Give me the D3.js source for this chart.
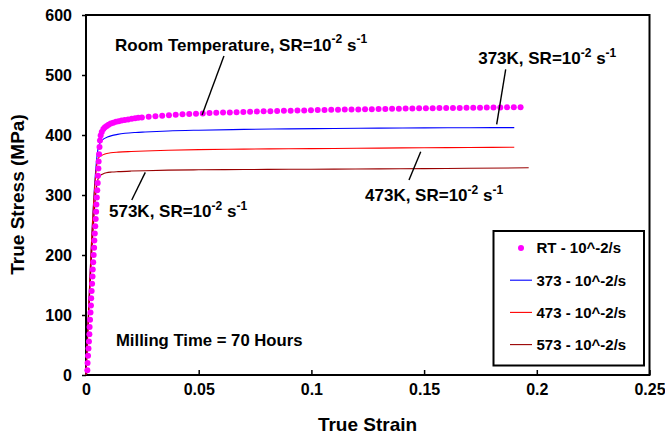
<!DOCTYPE html>
<html>
<head>
<meta charset="utf-8">
<script src="https://cdn.jsdelivr.net/npm/d3@7"></script>
<style>
  html, body { margin: 0; padding: 0; background: #fff; }
  text { font-family: "Liberation Sans", Arial, sans-serif; font-weight: bold; fill: #000; }
</style>
</head>
<body>
<svg id="chart" width="665" height="436"></svg>
<script>
// ---- data ----
const xTicks = [0, 0.05, 0.1, 0.15, 0.2, 0.25];
const xTickLabels = ["0", "0.05", "0.1", "0.15", "0.2", "0.25"];
const yTicks = [0, 100, 200, 300, 400, 500, 600];
const seriesNames = ["RT - 10^-2/s", "373 - 10^-2/s", "473 - 10^-2/s", "573 - 10^-2/s"];

// room temperature, SR = 1e-2 /s (markers)
const rtStrain = [0.0006,0.0007,0.0009,0.0011,0.0013,0.0015,0.0016,0.0018,0.0020,0.0022,
  0.0023,0.0025,0.0027,0.0029,0.0030,0.0032,0.0034,0.0036,0.0037,0.0039,
  0.0041,0.0043,0.0045,0.0046,0.0048,0.0050,0.0052,0.0053,0.0055,0.0056,
  0.0058,0.0060,0.0062,0.0065,0.0070,0.0077,0.0084,0.0092,0.0100,0.0110,
  0.0121,0.0133,0.0145,0.0158,0.0172,0.0187,0.0203,0.0218,0.0232,
  0.0248,0.0278,0.0308,0.0338,0.0368,0.0398,0.0428,0.0458,0.0488,0.0518,
  0.0548,0.0578,0.0608,0.0638,0.0668,0.0698,0.0728,0.0758,0.0788,0.0818,
  0.0848,0.0878,0.0908,0.0938,0.0968,0.0998,0.1028,0.1058,0.1088,0.1118,
  0.1148,0.1178,0.1208,0.1238,0.1268,0.1298,0.1328,0.1358,0.1388,0.1418,
  0.1448,0.1478,0.1508,0.1538,0.1568,0.1598,0.1628,0.1658,0.1688,0.1718,
  0.1748,0.1778,0.1808,0.1838,0.1868,0.1898,0.1928];
const rtStress = [8,20,32,44,56,68,80,92,104,116,
  128,140,152,164,176,188,200,212,224,236,
  248,260,272,284,296,308,320,332,344,356,
  368,380,391,399,405,410,413,415,417,419,
  420.5,422,423,424,425,426,427,428,428.8,
  429.3,430.3,431.3,432.2,433.1,433.8,434.4,435.0,435.5,436.0,
  436.5,436.9,437.3,437.7,438.1,438.5,438.8,439.1,439.4,439.7,
  440.0,440.3,440.6,440.8,441.0,441.3,441.5,441.7,441.9,442.1,
  442.3,442.5,442.7,442.9,443.1,443.3,443.5,443.7,443.9,444.0,
  444.2,444.4,444.5,444.7,444.8,445.0,445.1,445.2,445.4,445.5,
  445.6,445.8,445.9,446.0,446.1,446.3,446.4];

// 373 K
const k373Strain = [0,0.0055,0.0065,0.0077,0.0095,0.0114,0.0140,0.0173,0.0220,0.0262,0.0365,0.05,0.07,0.09,0.11,0.13,0.15,0.17,0.19];
const k373Stress = [0,380,388,393,396.5,399,401,402.8,404.2,405,406.7,408,409.3,410.2,410.9,411.4,411.8,412.1,412.3];
// 473 K
const k473Strain = [0,0.0053,0.0058,0.0067,0.0084,0.0110,0.0143,0.0200,0.0262,0.0365,0.05,0.07,0.09,0.11,0.13,0.15,0.17,0.19];
const k473Stress = [0,360,363,365.5,368.5,370.3,371.4,372.5,373.4,374.6,375.6,376.5,377.1,377.6,378.2,378.7,379.2,379.7];
// 573 K
const k573Strain = [0,0.0052,0.0058,0.0064,0.0075,0.0090,0.0115,0.0143,0.0200,0.0262,0.0365,0.05,0.07,0.09,0.11,0.13,0.15,0.17,0.1964];
const k573Stress = [0,325,329,332.5,335,337,338.3,339,339.9,340.5,341.4,342,342.5,342.8,343.1,343.5,344,344.5,345.3];

// ---- layout ----
const svg = d3.select("#chart");
const x = d3.scaleLinear().domain([0, 0.25]).range([86, 649.5]);
const y = d3.scaleLinear().domain([0, 600]).range([375, 15]);

const lineColors = ["#0000ff", "#ff0000", "#990000"];
const lineSeries = [
  d3.zip(k373Strain, k373Stress),
  d3.zip(k473Strain, k473Stress),
  d3.zip(k573Strain, k573Stress)
];

// axes
const yAxis = d3.axisLeft(y).tickValues(yTicks).tickSize(4).tickPadding(10).tickFormat(d3.format("d"));
const gy = svg.append("g").attr("transform", `translate(${x(0)},0)`).call(yAxis);
const xAxis = d3.axisBottom(x).tickValues(xTicks).tickSize(-5).tickPadding(9)
  .tickFormat((d, i) => xTickLabels[i]);
const gx = svg.append("g").attr("transform", `translate(0,${y(0)})`).call(xAxis);
[gx, gy].forEach(g => {
  g.select(".domain").remove();
  g.selectAll(".tick line").attr("stroke", "#000").attr("stroke-width", 1.5);
  g.selectAll(".tick text").style("font-size", "16px").attr("fill", "#000");
});

// plot frame
svg.append("rect")
  .attr("x", x(0)).attr("y", y(600))
  .attr("width", x(0.25) - x(0)).attr("height", y(0) - y(600))
  .attr("fill", "none").attr("stroke", "#000").attr("stroke-width", 2);

// axis titles
svg.append("text")
  .attr("x", 367.5).attr("y", 431)
  .attr("text-anchor", "middle").style("font-size", "19px")
  .text("True Strain");
svg.append("text")
  .attr("transform", "translate(24,194.5) rotate(-90)")
  .attr("text-anchor", "middle").style("font-size", "19px")
  .text("True Stress (MPa)");

// curves
const line = d3.line().x(d => x(d[0])).y(d => y(d[1])).curve(d3.curveMonotoneX);
lineSeries.forEach((s, i) => {
  svg.append("path").datum(s).attr("d", line)
    .attr("fill", "none").attr("stroke", lineColors[i]).attr("stroke-width", 1.1);
});

// room temperature markers
svg.append("g").selectAll("circle")
  .data(d3.zip(rtStrain, rtStress))
  .join("circle")
  .attr("cx", d => x(d[0])).attr("cy", d => y(d[1]))
  .attr("r", 3).attr("fill", "#ff00ff");

// curve labels with leader lines
function srLabel(px, py, head) {
  const t = svg.append("text").attr("x", px).attr("y", py).style("font-size", "17px");
  t.append("tspan").text(head);
  t.append("tspan").attr("dy", -7.5).style("font-size", "12px").text("-2");
  t.append("tspan").attr("dy", 7.5).text(" s");
  t.append("tspan").attr("dy", -7.5).style("font-size", "12px").text("-1");
}
function leader(a, b) {
  svg.append("line")
    .attr("x1", x(a[0])).attr("y1", y(a[1]))
    .attr("x2", x(b[0])).attr("y2", y(b[1]))
    .attr("stroke", "#000").attr("stroke-width", 1.4);
}
srLabel(x(0.0129), y(540.5), "Room Temperature, SR=10");
leader([0.0612, 531.7], [0.0515, 433.3]);
srLabel(x(0.1740), y(518.3), "373K, SR=10");
leader([0.1862, 509.5], [0.1822, 417.8]);
srLabel(x(0.1238), y(290), "473K, SR=10");
leader([0.1485, 372.2], [0.1433, 325]);
srLabel(x(0.0102), y(263.3), "573K, SR=10");
leader([0.0263, 337.8], [0.0203, 291.7]);

svg.append("text").attr("x", x(0.0133)).attr("y", y(48.3))
  .style("font-size", "16.7px").text("Milling Time = 70 Hours");

// legend
const lg = svg.append("g");
lg.append("rect").attr("x", 493.5).attr("y", 231).attr("width", 150.5).attr("height", 134.5)
  .attr("fill", "#fff").attr("stroke", "#000").attr("stroke-width", 2);
seriesNames.forEach((name, i) => {
  const cy = 248 + i * 32.2;
  if (i === 0) {
    lg.append("circle").attr("cx", 521).attr("cy", cy).attr("r", 3).attr("fill", "#ff00ff");
  } else {
    lg.append("line").attr("x1", 510).attr("x2", 532).attr("y1", cy).attr("y2", cy)
      .attr("stroke", lineColors[i - 1]).attr("stroke-width", 1.1);
  }
  lg.append("text").attr("x", 536.5).attr("y", cy + 5.3).style("font-size", "15px").text(name);
});
</script>
</body>
</html>
